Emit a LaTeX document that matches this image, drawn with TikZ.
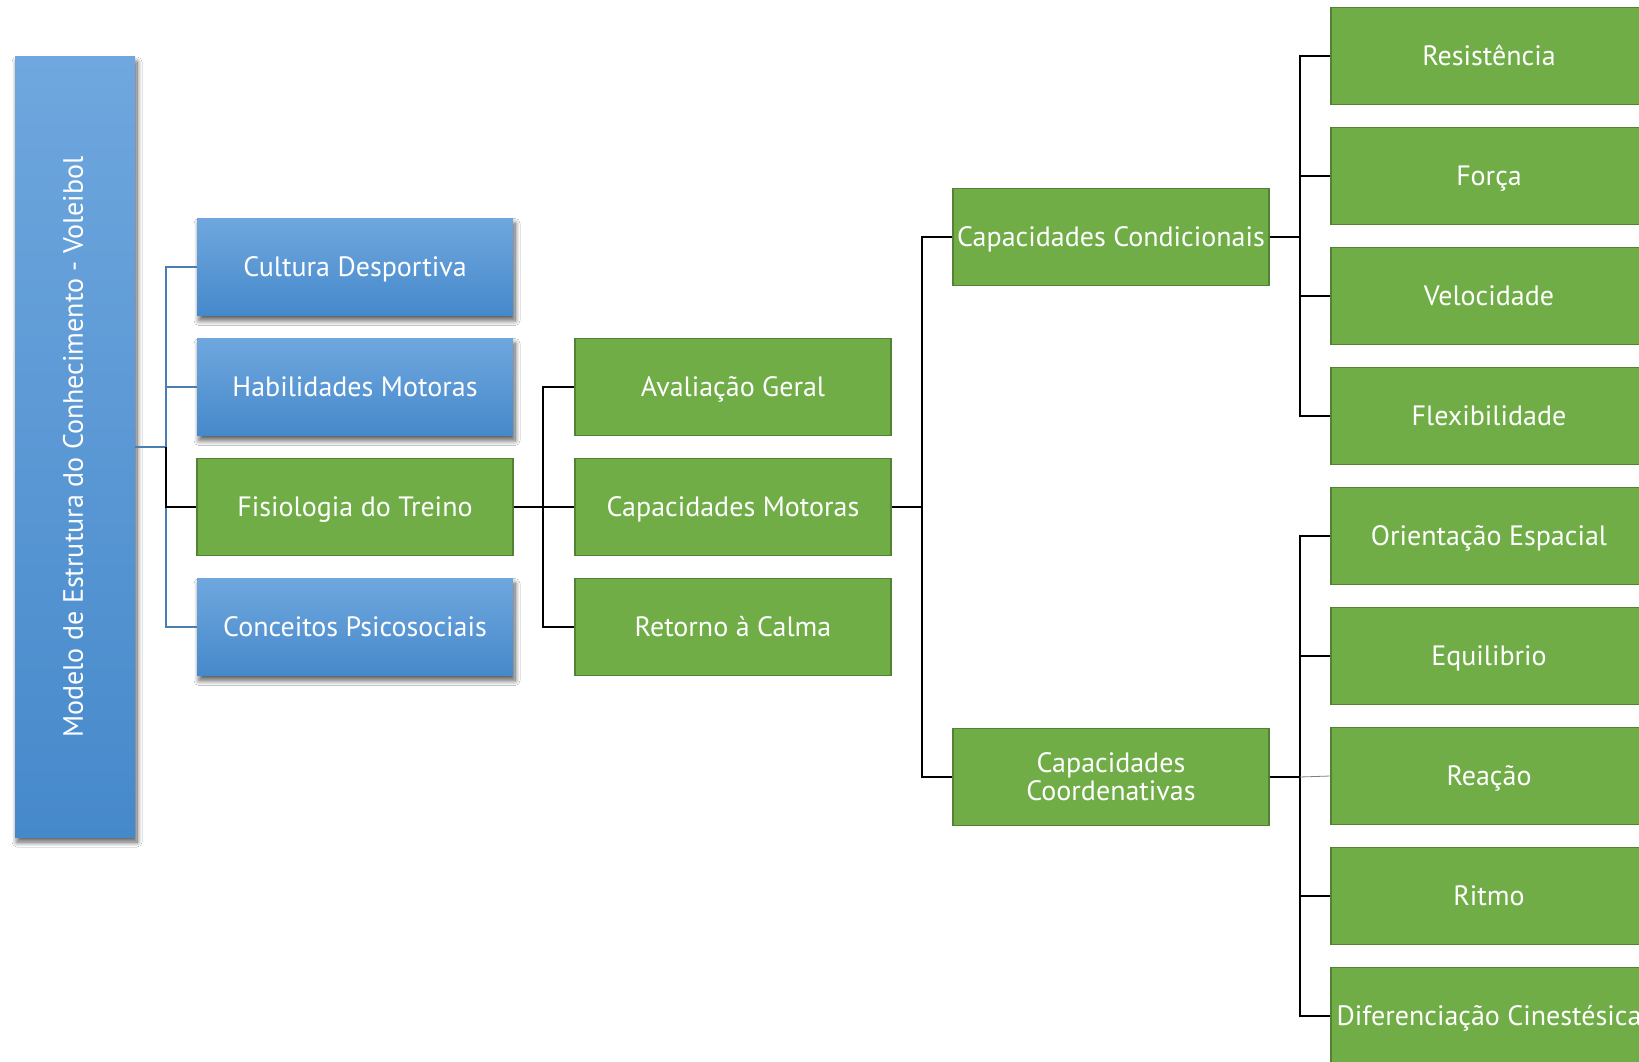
\documentclass[tikz,border=0pt]{standalone}
\usepackage{fontspec}
\setmainfont{PT Sans}
\usetikzlibrary{shadows.blur}

\definecolor{bluetop}{HTML}{6FA7DE}
\definecolor{bluebot}{HTML}{4689CB}
\definecolor{greenfill}{HTML}{70AD47}
\definecolor{greenedge}{HTML}{548235}
\definecolor{bluelink}{HTML}{4A7EB0}

\begin{document}
\begin{tikzpicture}[x=1pt,y=-1pt,
  boxfont/.style={font=\fontsize{28}{28}\selectfont},
  oneline/.style={text height=19.6pt, text depth=0pt},
  softshadow/.style={blur shadow={shadow xshift=2pt, shadow yshift=-5pt, shadow blur radius=5pt, shadow blur steps=10, shadow opacity=65}},
  bluebox/.style={rectangle, minimum width=316pt, minimum height=97pt, inner sep=2pt,
    top color=bluetop, bottom color=bluebot, draw=none, text=white, boxfont, oneline, softshadow},
  greenbase/.style={rectangle, minimum width=316pt, minimum height=97pt, inner sep=2pt,
    fill=greenfill, draw=greenedge, line width=1.6pt, text=white, boxfont, align=center},
  greenbox/.style={greenbase, oneline},
  mainbox/.style={rectangle, minimum width=120pt, minimum height=780pt, inner sep=0pt,
    top color=bluetop, bottom color=bluebot, draw=none, softshadow},
  lk/.style={draw=black, line width=1.8pt},
  bl/.style={draw=bluelink, line width=1.8pt},
  thinlk/.style={draw=gray, line width=0.8pt}]

\useasboundingbox (0,0) rectangle (1639,1062);
\fill[white] (0,0) rectangle (1639,1062);
\clip (0,0) rectangle (1639,1062);

% junction columns for the elbow connectors
\coordinate (j1) at (166,0);
\coordinate (j2) at (543,0);
\coordinate (j3) at (922,0);
\coordinate (j4) at (1300,0);

% root
\node[mainbox] (main) at (75,447) {};
\node[rotate=90, text=white, boxfont, oneline] (maintext) at (73,447) {Modelo de Estrutura do Conhecimento - Voleibol};

% first level
\node[bluebox]  (cult) at (355,267) {Cultura Desportiva};
\node[bluebox]  (hab)  at (355,387) {Habilidades Motoras};
\node[greenbox] (fis)  at (355,507) {Fisiologia do Treino};
\node[bluebox]  (conc) at (355,627) {Conceitos Psicosociais};

% second level
\node[greenbox] (aval) at (733,387) {Avaliação Geral};
\node[greenbox] (capm) at (733,507) {Capacidades Motoras};
\node[greenbox] (ret)  at (733,627) {Retorno à Calma};

% third level
\node[greenbox]  (cond)  at (1111,237) {Capacidades Condicionais};
\node[greenbase] (coord) at (1111,777) {Capacidades\\Coordenativas};

% fourth level
\node[greenbox] (res)  at (1489,56)   {Resistência};
\node[greenbox] (forc) at (1489,176)  {Força};
\node[greenbox] (vel)  at (1489,296)  {Velocidade};
\node[greenbox] (flex) at (1489,416)  {Flexibilidade};
\node[greenbox] (ori)  at (1489,536)  {Orientação Espacial};
\node[greenbox] (equi) at (1489,656)  {Equilibrio};
\node[greenbox] (rea)  at (1489,776)  {Reação};
\node[greenbox] (rit)  at (1489,896)  {Ritmo};
\node[greenbox] (dif)  at (1489,1016) {Diferenciação Cinestésica};

% connectors: root to first level
\draw[bl] (main.east) -- (main.east -| j1) |- (cult.west);
\draw[bl] (main.east) -- (main.east -| j1) |- (hab.west);
\draw[bl] (main.east) -- (main.east -| j1) |- (conc.west);
\draw[lk] (main.east -| j1) |- (fis.west);

% first to second level
\draw[lk] (fis.east) -- (fis.east -| j2) |- (aval.west);
\draw[lk] (fis.east) -- (capm.west);
\draw[lk] (fis.east) -- (fis.east -| j2) |- (ret.west);

% second to third level
\draw[lk] (capm.east) -- (capm.east -| j3) |- (cond.west);
\draw[lk] (capm.east) -- (capm.east -| j3) |- (coord.west);

% third to fourth level
\foreach \n in {res,forc,vel,flex}
  \draw[lk] (cond.east) -- (cond.east -| j4) |- (\n.west);
\foreach \n in {ori,equi,rit,dif}
  \draw[lk] (coord.east) -- (coord.east -| j4) |- (\n.west);
\draw[lk] (coord.east) -- (coord.east -| j4);
\draw[thinlk] (coord.east -| j4) -- (rea.west);

\end{tikzpicture}
\end{document}
